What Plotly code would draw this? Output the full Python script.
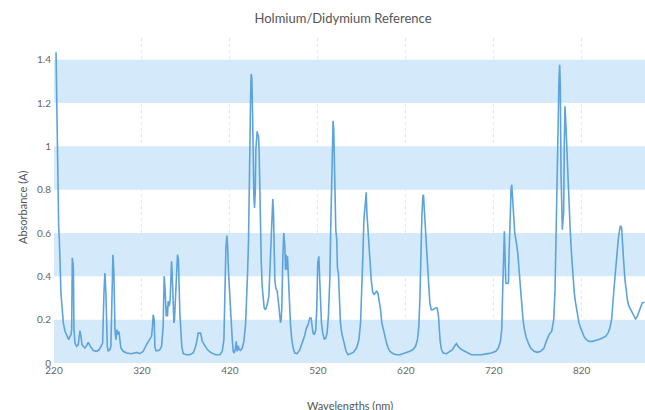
import plotly.graph_objects as go

title_text = "Holmium/Didymium Reference"
x_title = "Wavelengths (nm)"
y_title = "Absorbance (A)"

wavelength_nm = [
    222.3, 223.0, 223.8, 224.5, 225.3, 226.1, 226.8, 227.9, 229.1, 230.6, 232.5, 235.1, 236.7, 238.2, 239.3,
    240.1, 240.8, 242.0, 242.7, 243.8, 245.7, 247.6, 248.8, 249.5, 250.7, 251.8, 253.3, 255.2, 257.1, 259.0,
    260.9, 262.8, 264.7, 268.4, 271.5, 273.4, 275.3, 276.8, 277.9, 279.0, 279.8, 280.6, 281.7, 283.6, 284.7,
    285.9, 287.0, 288.1, 289.3, 290.4, 291.5, 292.7, 293.8, 294.9, 296.1, 298.7, 302.5, 308.2, 312.0, 313.9,
    317.7, 321.4, 325.2, 327.1, 329.0, 330.9, 332.0, 332.8, 333.9, 334.7, 335.8, 338.5, 340.4, 342.3, 344.1,
    345.3, 346.4, 347.6, 348.3, 349.1, 349.8, 351.0, 352.1, 352.9, 353.6, 354.4, 355.1, 356.3, 357.0, 357.8,
    358.5, 359.3, 360.4, 361.5, 362.3, 363.1, 364.2, 365.3, 366.9, 370.6, 374.4, 378.2, 380.5, 382.0, 383.9,
    386.7, 388.6, 390.5, 394.3, 398.1, 403.7, 408.7, 411.3, 413.2, 414.3, 415.5, 416.6, 417.4, 418.5, 419.6,
    420.4, 421.5, 422.7, 423.8, 424.9, 426.1, 427.2, 428.3, 429.5, 430.6, 432.1, 434.0, 435.9, 437.8, 438.9,
    440.1, 441.2, 442.0, 442.7, 443.5, 444.2, 445.0, 445.7, 446.5, 447.3, 448.0, 448.8, 449.5, 450.3, 451.0,
    451.8, 452.6, 453.3, 454.1, 454.8, 455.6, 456.7, 457.9, 459.0, 460.5, 462.4, 464.3, 465.4, 466.6, 467.7,
    468.8, 469.6, 470.3, 471.1, 472.2, 473.8, 475.3, 476.4, 477.5, 478.3, 479.1, 480.2, 481.3, 482.5, 483.2,
    484.0, 484.7, 485.5, 486.6, 487.8, 488.9, 490.4, 491.9, 493.8, 496.5, 499.5, 502.1, 504.8, 507.1, 509.0,
    510.8, 512.4, 513.5, 514.6, 516.1, 517.7, 518.8, 519.9, 521.1, 521.8, 523.0, 524.1, 525.6, 527.5, 529.0,
    530.5, 532.0, 533.6, 534.7, 535.8, 536.6, 537.3, 538.1, 538.9, 539.6, 540.4, 541.5, 542.3, 543.4, 544.5,
    545.7, 547.2, 548.7, 550.2, 552.1, 554.4, 557.0, 560.3, 564.1, 566.7, 568.6, 570.1, 571.3, 572.4, 573.5,
    574.3, 575.0, 575.8, 576.9, 578.1, 579.2, 580.7, 582.2, 583.8, 585.3, 586.8, 588.3, 589.8, 591.3, 592.8,
    594.3, 596.2, 598.1, 600.0, 601.9, 605.7, 609.5, 613.3, 617.1, 620.8, 624.6, 628.4, 631.1, 633.3, 634.8,
    636.0, 637.1, 638.3, 639.4, 640.1, 641.3, 642.4, 643.6, 644.7, 645.8, 647.3, 648.9, 651.1, 653.4, 655.7,
    657.2, 657.9, 659.1, 660.6, 662.5, 666.3, 670.1, 673.1, 675.3, 677.6, 679.9, 683.3, 687.1, 690.9, 694.6,
    700.3, 706.0, 711.7, 717.4, 722.3, 725.3, 727.6, 729.1, 730.2, 731.4, 732.1, 732.9, 733.7, 735.2, 736.7,
    737.4, 738.6, 739.7, 740.5, 741.2, 742.4, 743.9, 745.8, 747.3, 748.8, 750.3, 751.8, 753.3, 754.9, 757.1,
    759.4, 762.0, 765.8, 769.6, 773.4, 777.2, 779.8, 782.9, 785.9, 788.2, 789.7, 790.8, 792.0, 792.7, 793.5,
    794.2, 795.0, 795.7, 796.5, 797.2, 798.0, 798.8, 799.5, 800.3, 801.0, 801.8, 802.5, 803.3, 804.1, 804.8,
    806.0, 807.1, 808.6, 810.1, 811.6, 813.1, 815.0, 816.9, 818.8, 820.7, 822.6, 825.3, 828.3, 832.1, 835.9,
    839.6, 843.4, 847.2, 849.9, 852.1, 854.0, 855.5, 857.0, 858.6, 860.1, 861.6, 863.1, 864.2, 865.4, 866.5,
    867.6, 869.2, 870.7, 872.2, 873.7, 875.6, 877.5, 879.4, 881.3, 883.2, 885.1, 887.0, 888.8, 891.5,
]

absorbance = [
    1.434, 1.185, 1.000, 0.815, 0.631, 0.569, 0.446, 0.323, 0.262, 0.185, 0.146, 0.123, 0.108, 0.123, 0.131,
    0.154, 0.485, 0.446, 0.154, 0.092, 0.077, 0.085, 0.138, 0.149, 0.123, 0.085, 0.077, 0.069, 0.080, 0.095,
    0.080, 0.069, 0.058, 0.054, 0.062, 0.077, 0.092, 0.323, 0.415, 0.323, 0.154, 0.077, 0.054, 0.062, 0.077,
    0.323, 0.500, 0.415, 0.154, 0.108, 0.154, 0.131, 0.146, 0.108, 0.069, 0.054, 0.046, 0.043, 0.046, 0.049,
    0.043, 0.054, 0.085, 0.100, 0.108, 0.123, 0.169, 0.223, 0.200, 0.077, 0.057, 0.057, 0.062, 0.077, 0.169,
    0.400, 0.338, 0.215, 0.262, 0.215, 0.285, 0.262, 0.292, 0.385, 0.469, 0.415, 0.292, 0.185, 0.200, 0.262,
    0.323, 0.415, 0.500, 0.477, 0.323, 0.231, 0.154, 0.077, 0.043, 0.038, 0.038, 0.046, 0.069, 0.092, 0.138,
    0.138, 0.100, 0.085, 0.062, 0.049, 0.038, 0.038, 0.054, 0.108, 0.323, 0.538, 0.588, 0.538, 0.415, 0.323,
    0.231, 0.185, 0.108, 0.054, 0.046, 0.062, 0.100, 0.054, 0.080, 0.062, 0.058, 0.069, 0.100, 0.177, 0.262,
    0.415, 0.569, 0.815, 1.138, 1.215, 1.334, 1.308, 1.169, 0.908, 0.769, 0.715, 0.785, 0.985, 1.031, 1.069,
    1.054, 1.046, 0.969, 0.754, 0.585, 0.477, 0.354, 0.292, 0.254, 0.246, 0.269, 0.308, 0.415, 0.569, 0.708,
    0.757, 0.692, 0.523, 0.385, 0.346, 0.331, 0.277, 0.231, 0.185, 0.200, 0.262, 0.492, 0.600, 0.538, 0.431,
    0.500, 0.431, 0.492, 0.369, 0.277, 0.177, 0.108, 0.069, 0.046, 0.043, 0.062, 0.092, 0.123, 0.162, 0.177,
    0.208, 0.208, 0.169, 0.138, 0.131, 0.154, 0.262, 0.462, 0.492, 0.415, 0.262, 0.185, 0.138, 0.108, 0.115,
    0.138, 0.215, 0.385, 0.631, 0.908, 1.062, 1.118, 1.077, 0.908, 0.815, 0.615, 0.569, 0.438, 0.415, 0.292,
    0.185, 0.138, 0.108, 0.085, 0.054, 0.038, 0.043, 0.049, 0.069, 0.108, 0.185, 0.323, 0.508, 0.662, 0.738,
    0.785, 0.788, 0.692, 0.615, 0.569, 0.477, 0.385, 0.331, 0.315, 0.323, 0.331, 0.323, 0.292, 0.246, 0.185,
    0.154, 0.131, 0.092, 0.069, 0.054, 0.043, 0.038, 0.038, 0.043, 0.046, 0.054, 0.062, 0.077, 0.108, 0.169,
    0.292, 0.508, 0.677, 0.769, 0.777, 0.692, 0.615, 0.569, 0.477, 0.369, 0.277, 0.246, 0.246, 0.254, 0.254,
    0.215, 0.154, 0.100, 0.062, 0.046, 0.043, 0.054, 0.062, 0.077, 0.089, 0.074, 0.062, 0.054, 0.046, 0.038,
    0.038, 0.038, 0.042, 0.046, 0.054, 0.069, 0.100, 0.154, 0.338, 0.569, 0.608, 0.492, 0.369, 0.366, 0.369,
    0.492, 0.677, 0.800, 0.823, 0.785, 0.677, 0.600, 0.554, 0.508, 0.431, 0.354, 0.262, 0.200, 0.154, 0.115,
    0.092, 0.069, 0.054, 0.049, 0.054, 0.069, 0.100, 0.131, 0.146, 0.200, 0.338, 0.569, 0.815, 1.077, 1.215,
    1.308, 1.377, 1.277, 0.877, 0.662, 0.615, 0.662, 0.692, 1.031, 1.185, 1.123, 1.046, 0.985, 0.892, 0.800,
    0.692, 0.600, 0.492, 0.400, 0.323, 0.277, 0.223, 0.185, 0.162, 0.138, 0.123, 0.108, 0.100, 0.100, 0.103,
    0.108, 0.115, 0.123, 0.138, 0.162, 0.200, 0.262, 0.354, 0.431, 0.508, 0.569, 0.615, 0.634, 0.623, 0.569,
    0.477, 0.385, 0.323, 0.285, 0.262, 0.246, 0.231, 0.215, 0.203, 0.215, 0.238, 0.262, 0.277, 0.280,
]

x_tick_values = [220, 320, 420, 520, 620, 720, 820]
y_tick_values = [0, 0.2, 0.4, 0.6, 0.8, 1.0, 1.2, 1.4]
band_ranges = [(0, 0.2), (0.4, 0.6), (0.8, 1.0), (1.2, 1.4)]

FIG_W, FIG_H = 645, 410

fig = go.Figure()
fig.add_trace(go.Scatter(
    x=wavelength_nm, y=absorbance, mode="lines",
    line=dict(color="#5da3dd", width=1.6),
    hoverinfo="x+y", showlegend=False,
))

for lo, hi in band_ranges:
    fig.add_shape(type="rect", xref="paper", x0=0, x1=1, yref="y", y0=lo, y1=hi,
                  fillcolor="#d4eafa", line=dict(width=0), layer="below")

fig.update_layout(
    width=FIG_W, height=FIG_H,
    margin=dict(l=54, r=0, t=38, b=47),
    paper_bgcolor="white", plot_bgcolor="white",
    font=dict(family="Lato, 'Open Sans', sans-serif", color="#666666", size=10),
    title=dict(text=title_text, x=343 / FIG_W, xref="container", xanchor="center",
               y=1 - 18 / FIG_H, yref="container", yanchor="middle",
               font=dict(size=13, color="#555555", family="Lato, sans-serif")),
    xaxis=dict(range=[220, 892], tickmode="array", tickvals=x_tick_values,
               showgrid=True, gridcolor="#d6eaf7", griddash="dot", gridwidth=1,
               zeroline=False, showline=False, ticks="", ticklabelstandoff=0,
               tickfont=dict(size=10, color="#666666")),
    yaxis=dict(range=[0, 1.5], tickmode="array", tickvals=y_tick_values,
               showgrid=False, zeroline=False, showline=False, ticks="",
               ticklabelstandoff=2,
               tickfont=dict(size=10, color="#666666")),
    annotations=[
        dict(text=x_title, xref="paper", yref="paper", x=0.5, y=(363 - 405) / 325,
             xanchor="center", yanchor="middle", showarrow=False,
             font=dict(size=11, color="#555555")),
        dict(text=y_title, xref="paper", yref="paper", x=(22 - 54) / 591, y=(363 - 207) / 325,
             xanchor="center", yanchor="middle", showarrow=False, textangle=-90,
             font=dict(size=11, color="#555555")),
    ],
)

fig.write_html(
    "out.html",
    config={"displayModeBar": False},
    post_script="document.body.style.margin='0';document.body.style.overflow='hidden';",
)
